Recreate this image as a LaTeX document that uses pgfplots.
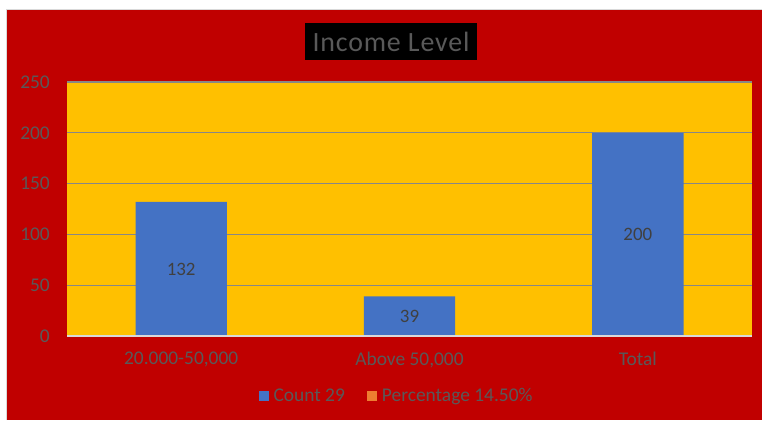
\documentclass[border=0pt]{standalone}
\usepackage{pgfplots}
\pgfplotsset{compat=1.18}
\usepackage{fontspec}
\setmainfont{Carlito}
\definecolor{bgred}{HTML}{C00000}
\definecolor{plotyel}{HTML}{FFC000}
\definecolor{barblue}{HTML}{4472C4}
\definecolor{barorange}{HTML}{ED7D31}
\definecolor{txtgray}{HTML}{595959}
\definecolor{lbldark}{HTML}{404040}
\definecolor{gridgray}{HTML}{878787}
\definecolor{axgray}{HTML}{D9D9D9}
\begin{document}
\begin{tikzpicture}[x=1bp,y=1bp]
\useasboundingbox (0,0) rectangle (762,420);
\fill[white] (0,0) rectangle (762,420);
\fill[bgred] (6,0) rectangle (762,410);
\draw[axgray, line width=1bp] (6.5,0) -- (6.5,410.5) -- (762,410.5);
\node[fill=black, text=txtgray, minimum width=172bp, minimum height=37bp, inner sep=0pt, font=\addfontfeatures{LetterSpace=3}\fontsize{28}{32}\selectfont] at (391,378.5) {Income Level};
\begin{axis}[
  at={(67bp,84bp)}, anchor=south west,
  scale only axis, width=685bp, height=254bp,
  xmin=-0.5, xmax=2.5, ymin=0, ymax=250,
  xtick={0,1,2}, xticklabels={{20.000-50,000},{Above 50,000},{Total}},
  ytick={0,50,...,250},
  axis line style={draw=none},
  major tick length=0pt,
  ymajorgrids, grid style={gridgray, line width=1.4bp},
  axis background/.style={fill=plotyel},
  tick label style={text=txtgray, font=\fontsize{19.5}{21}\selectfont},
  /pgf/number format/assume math mode=true,
  yticklabel style={anchor=east, inner sep=0pt, xshift=-17bp},
  xticklabel style={anchor=north, inner sep=0pt, yshift=-16bp},
  legend image code/.code={\fill[#1] (0bp,-5bp) rectangle (10bp,5bp); \path (13bp,0bp);},
  legend style={at={(0.481,-0.236)}, anchor=center, draw=none, fill=none,
    legend columns=2, font=\fontsize{19.5}{21}\selectfont, text=txtgray,
    /tikz/every even column/.append style={column sep=20bp}},
]
\addplot[ybar, bar width=0.4, bar shift=0pt, fill=barblue, draw=none,
  nodes near coords,
  visualization depends on=y \as \rawy,
  every node near coord/.append style={anchor=center, shift={(axis direction cs:0,-\rawy/2)}, text=lbldark, font=\fontsize{19}{21}\selectfont}]
  coordinates {(0,132) (1,39) (2,200)};
\addlegendentry{Count 29}
\addlegendimage{fill=barorange, draw=none}
\addlegendentry{Percentage 14.50\%}
\draw[axgray, line width=1.5bp] (rel axis cs:0,0) -- (rel axis cs:1,0);
\end{axis}
\end{tikzpicture}
\end{document}
